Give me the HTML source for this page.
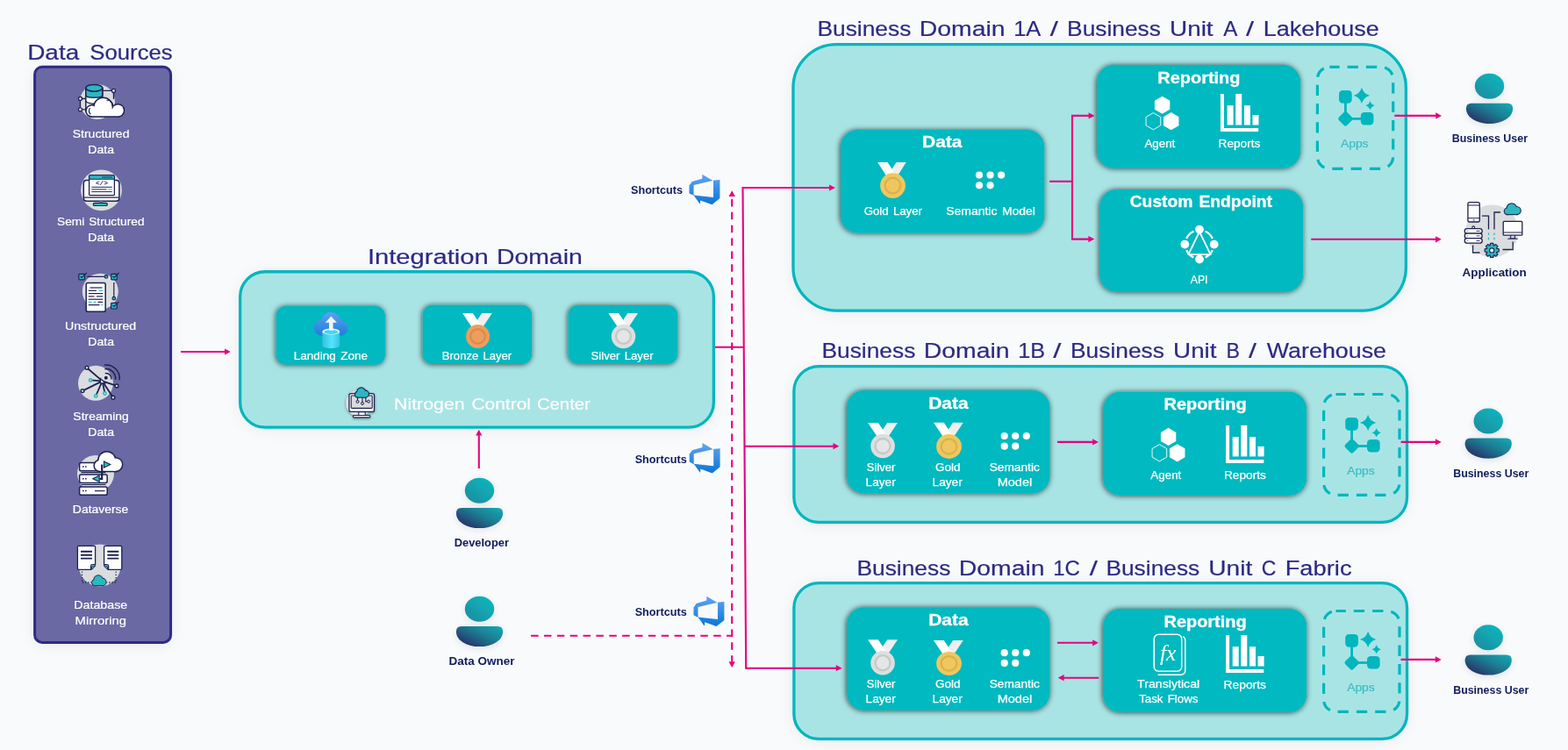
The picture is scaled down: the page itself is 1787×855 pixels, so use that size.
<!DOCTYPE html>
<html lang="en"><head><meta charset="utf-8"><title>Data Architecture</title>
<style>
html,body{margin:0;padding:0;background:#F9FAFC;}
body{width:1787px;height:855px;overflow:hidden;}
svg{display:block;}
text{font-family:"Liberation Sans",sans-serif;}
text.mono{font-family:"Liberation Mono",monospace;}
text.fx{font-family:"Liberation Serif",serif;font-style:italic;}
</style></head><body>
<svg width="1787" height="855" viewBox="0 0 1787 855">
<defs>
<filter id="bs" x="-10%" y="-20%" width="120%" height="140%"><feDropShadow dx="0" dy="2" stdDeviation="10" flood-color="#000" flood-opacity="0.065"/></filter>
<filter id="cs" x="-10%" y="-20%" width="120%" height="140%"><feDropShadow dx="-0.6" dy="0.4" stdDeviation="3.3" flood-color="#000" flood-opacity="0.72"/></filter>
<filter id="us" x="-30%" y="-30%" width="160%" height="160%"><feDropShadow dx="0" dy="2" stdDeviation="5" flood-color="#000" flood-opacity="0.10"/></filter>
<filter id="ncs" x="-30%" y="-30%" width="160%" height="160%"><feDropShadow dx="0" dy="1" stdDeviation="1.6" flood-color="#000" flood-opacity="0.45"/></filter>
<linearGradient id="ug1" x1="0.85" y1="0.1" x2="0.1" y2="1"><stop offset="0" stop-color="#0DB5BD"/><stop offset="1" stop-color="#1E8B9E"/></linearGradient>
<linearGradient id="ug2" x1="0.95" y1="0" x2="0.1" y2="0.75"><stop offset="0" stop-color="#13AAB4"/><stop offset="0.5" stop-color="#1D7C92"/><stop offset="1" stop-color="#26376B"/></linearGradient>
<linearGradient id="sg" x1="0" y1="0" x2="0" y2="1"><stop offset="0" stop-color="#62A4F0"/><stop offset="1" stop-color="#0A76D4"/></linearGradient>
<linearGradient id="lg" x1="0" y1="356" x2="0" y2="383" gradientUnits="userSpaceOnUse"><stop offset="0" stop-color="#5EA0EF"/><stop offset="1" stop-color="#1A7FDB"/></linearGradient>
<linearGradient id="cg" x1="0" y1="0" x2="1" y2="0"><stop offset="0" stop-color="#34C0E0"/><stop offset="0.55" stop-color="#54E4FE"/><stop offset="1" stop-color="#36C4E6"/></linearGradient>
</defs>
<rect width="1787" height="855" fill="#F9FAFC"/>
<g style="opacity:0.999">

<text y="67.9" font-size="24.3" font-weight="400" fill="#2C2A82" stroke="#2C2A82" stroke-width="0.2"><tspan x="31.2" textLength="59.04" lengthAdjust="spacingAndGlyphs">Data</tspan> <tspan x="102.24" textLength="94.52" lengthAdjust="spacingAndGlyphs">Sources</tspan></text>
<rect x="39.6" y="76.2" width="155" height="656.2" rx="8.5" fill="#6B69A4" stroke="#2E2B86" stroke-width="3" filter="url(#bs)"/>
<circle cx="111" cy="116" r="20" fill="#DADCDE"/>
<path d="M117,103.4 H127.5 M129.5,105.4 V113 M91.5,114.5 V122.8 M93.5,112.5 H98 M93.5,124.8 H99" fill="none" stroke="#1E2250" stroke-width="1.3"/>
<circle cx="129.5" cy="103.4" r="2" fill="#fff" stroke="#1E2250" stroke-width="1.3"/>
<circle cx="91.5" cy="112.5" r="2" fill="#fff" stroke="#1E2250" stroke-width="1.3"/>
<circle cx="91.5" cy="124.8" r="2" fill="#fff" stroke="#1E2250" stroke-width="1.3"/>
<path d="M97.8,100.5 V127 H116.8 V100.5Z" fill="#fff" stroke="#1E2250" stroke-width="1.5"/>
<path d="M97.8,100.5 V108.5 C97.8,112.3 116.8,112.3 116.8,108.5 V100.5Z" fill="#2BB8C0" stroke="#1E2250" stroke-width="1.5"/>
<ellipse cx="107.3" cy="100.3" rx="9.5" ry="3.9" fill="#2BB8C0" stroke="#1E2250" stroke-width="1.5"/>
<path d="M97.8,115 C99,118.5 110,118.8 113,117.5" fill="none" stroke="#1E2250" stroke-width="1.3"/>
<circle cx="104.6" cy="126.4" r="5.9" fill="#1E2250" stroke="#1E2250" stroke-width="3"/>
<circle cx="117.6" cy="122.2" r="10.1" fill="#1E2250" stroke="#1E2250" stroke-width="3"/>
<circle cx="134.4" cy="125.9" r="6.4" fill="#1E2250" stroke="#1E2250" stroke-width="3"/>
<rect x="104.6" y="124" width="29.8" height="8.3" fill="#1E2250" stroke="#1E2250" stroke-width="3"/>
<circle cx="104.6" cy="126.4" r="5.9" fill="#fff"/>
<circle cx="117.6" cy="122.2" r="10.1" fill="#fff"/>
<circle cx="134.4" cy="125.9" r="6.4" fill="#fff"/>
<rect x="104.6" y="124" width="29.8" height="8.3" fill="#fff"/>
<path d="M102.6,123 C101,125.4 101.3,128.4 103.3,130.4 M121.5,114.3 C125,113.8 128.5,116.3 129,120.3" fill="none" stroke="#1E2250" stroke-width="1.2"/>
<circle cx="115.5" cy="216.8" r="23.4" fill="#DADCDE"/>
<rect x="95.3" y="205.6" width="40.6" height="23.6" rx="3.2" fill="#fff" stroke="#1E2250" stroke-width="1.5"/>
<path d="M95.5,225.2 H135.8" fill="none" stroke="#1E2250" stroke-width="1.2"/>
<rect x="101.6" y="199.8" width="28.8" height="22.8" rx="1.2" fill="#fff" stroke="#1E2250" stroke-width="1.3"/>
<path d="M101.6,204.3 V201 Q101.6,199.8 102.8,199.8 H129.2 Q130.4,199.8 130.4,201 V204.3Z" fill="#2BB8C0" stroke="#1E2250" stroke-width="1.1"/>
<path d="M116,202 H128" fill="none" stroke="#1E2250" stroke-width="0.9"/>
<text x="115.9" y="211.3" font-size="7" font-weight="700" fill="#1E2250" text-anchor="middle" class="mono" textLength="14" lengthAdjust="spacingAndGlyphs">&lt;/&gt;</text>
<path d="M104.3,213.3 H127.8 M104.3,215.9 H121.5 M104.3,218.6 H127.8" fill="none" stroke="#1E2250" stroke-width="1"/>
<path d="M123.3,215.9 H127.8" fill="none" stroke="#2BB8C0" stroke-width="1.1"/>
<rect x="113.4" y="229.4" width="3.6" height="2" fill="#2BB8C0"/>
<rect x="106.3" y="231.3" width="16" height="3.2" rx="1.6" fill="#2BB8C0" stroke="#1E2250" stroke-width="1.2"/>
<circle cx="114.3" cy="332.2" r="20.5" fill="#DADCDE"/>
<path d="M99.5,315.4 H119 M129.8,322 V338" fill="none" stroke="#1E2250" stroke-width="1.2"/>
<circle cx="121" cy="315.4" r="1.8" fill="#2BB8C0" stroke="#1E2250" stroke-width="1.1"/>
<circle cx="129.8" cy="340.2" r="1.8" fill="#2BB8C0" stroke="#1E2250" stroke-width="1.1"/>
<rect x="89.9" y="312.3" width="6.6" height="6.6" rx="0.8" fill="#2BB8C0" stroke="#1E2250" stroke-width="1.2"/>
<path d="M91.6,314.8 L93.2,316.4 L98.8,310.8" fill="none" stroke="#1E2250" stroke-width="1.1"/>
<rect x="126.7" y="312.3" width="6.6" height="6.6" rx="0.8" fill="#2BB8C0" stroke="#1E2250" stroke-width="1.2"/>
<path d="M128.4,314.8 L130,316.4 L135.6,310.8" fill="none" stroke="#1E2250" stroke-width="1.1"/>
<rect x="126.7" y="345.4" width="6.6" height="6.6" rx="0.8" fill="#2BB8C0" stroke="#1E2250" stroke-width="1.2"/>
<path d="M128.4,347.9 L130,349.5 L135.6,343.9" fill="none" stroke="#1E2250" stroke-width="1.1"/>
<rect x="98.2" y="322.4" width="22" height="32.8" rx="1.8" fill="#fff" stroke="#1E2250" stroke-width="1.5"/>
<path d="M102.5,328 H116.5" stroke="#1E2250" stroke-width="1.2" fill="none"/>
<path d="M100.8,331.3 H110" stroke="#1E2250" stroke-width="1.2" fill="none"/>
<path d="M112.5,331.3 H117.2" stroke="#2BB8C0" stroke-width="1.2" fill="none"/>
<path d="M100.8,334.6 H117.2" stroke="#1E2250" stroke-width="1.2" fill="none"/>
<path d="M100.8,337.9 H107.5" stroke="#1E2250" stroke-width="1.2" fill="none"/>
<path d="M110,337.9 H117.2" stroke="#1E2250" stroke-width="1.2" fill="none"/>
<path d="M100.8,341.2 H117.2" stroke="#1E2250" stroke-width="1.2" fill="none"/>
<path d="M100.8,344.4 H104.5" stroke="#2BB8C0" stroke-width="1.2" fill="none"/>
<path d="M106.5,344.4 H109.5" stroke="#2BB8C0" stroke-width="1.2" fill="none"/>
<path d="M111.5,344.4 H117.2" stroke="#1E2250" stroke-width="1.2" fill="none"/>
<path d="M100.8,347.6 H113.5" stroke="#1E2250" stroke-width="1.2" fill="none"/>
<path d="M115.3,347.6 H117.2" stroke="#2BB8C0" stroke-width="1.2" fill="none"/>
<circle cx="109" cy="436.8" r="20" fill="#DADCDE"/>
<path d="M116.6,434.4 L99,419.3" fill="none" stroke="#1E2250" stroke-width="1.8"/>
<path d="M116.6,434.4 L94,445.6" fill="none" stroke="#1E2250" stroke-width="1.8"/>
<path d="M116.6,434.4 L128.9,453.2" fill="none" stroke="#1E2250" stroke-width="1.8"/>
<path d="M116.6,434.4 L133,439.9" fill="none" stroke="#1E2250" stroke-width="1.8"/>
<path d="M116.6,434.4 L103.2,433.4" fill="none" stroke="#1E2250" stroke-width="1.8"/>
<path d="M116.6,434.4 L109.2,451.4" fill="none" stroke="#1E2250" stroke-width="1.8"/>
<path d="M116.6,434.4 L119.5,448.5" fill="none" stroke="#1E2250" stroke-width="1.8"/>
<circle cx="99" cy="419.3" r="1.9" fill="#DADCDE" stroke="#1E2250" stroke-width="1.4"/>
<circle cx="94" cy="445.6" r="1.9" fill="#DADCDE" stroke="#1E2250" stroke-width="1.4"/>
<circle cx="128.9" cy="453.2" r="1.9" fill="#DADCDE" stroke="#1E2250" stroke-width="1.4"/>
<circle cx="133" cy="439.9" r="1.9" fill="#DADCDE" stroke="#1E2250" stroke-width="1.4"/>
<circle cx="103.2" cy="433.4" r="2.4" fill="#2BB8C0"/><circle cx="103.2" cy="433.4" r="0.7" fill="#fff"/>
<circle cx="109.2" cy="451.4" r="2.4" fill="#2BB8C0"/><circle cx="109.2" cy="451.4" r="0.7" fill="#fff"/>
<circle cx="119.5" cy="448.5" r="2.4" fill="#2BB8C0"/><circle cx="119.5" cy="448.5" r="0.7" fill="#fff"/>
<path d="M114.5,431.5 L119.8,436.8 L114.5,436.8Z" fill="#fff" stroke="#1E2250" stroke-width="1.2"/>
<circle cx="120.8" cy="430.8" r="2" fill="#1E2250"/>
<path d="M120.38,425.42 A6,6 0 0 1 126.88,431.92" fill="none" stroke="#1E2250" stroke-width="1.5" stroke-linecap="round"/>
<path d="M119.96,420.64 A10.8,10.8 0 0 1 131.66,432.34" fill="none" stroke="#1E2250" stroke-width="1.5" stroke-linecap="round"/>
<path d="M119.56,416.06 A15.4,15.4 0 0 1 136.24,432.74" fill="none" stroke="#1E2250" stroke-width="1.5" stroke-linecap="round"/>
<circle cx="109" cy="540" r="21" fill="#DADCDE"/>
<rect x="90.6" y="527.4" width="31.6" height="9.4" rx="1.8" fill="#fff" stroke="#1E2250" stroke-width="1.5"/>
<path d="M94,532.1 h1.6 M97,532.1 h1.6" fill="none" stroke="#1E2250" stroke-width="1.5"/>
<rect x="90.6" y="541" width="31.6" height="9.4" rx="1.8" fill="#fff" stroke="#1E2250" stroke-width="1.5"/>
<path d="M94,545.7 h1.6 M97,545.7 h1.6" fill="none" stroke="#1E2250" stroke-width="1.5"/>
<rect x="90.6" y="554.9" width="31.6" height="9.4" rx="1.8" fill="#fff" stroke="#1E2250" stroke-width="1.5"/>
<path d="M94,559.6 h1.6 M97,559.6 h1.6" fill="none" stroke="#1E2250" stroke-width="1.5"/>
<path d="M92.5,538.6 H120.5 M92.5,552.5 H120.5" fill="none" stroke="#1E2250" stroke-width="1.1"/>
<path d="M108,559.6 H119.5" fill="none" stroke="#1E2250" stroke-width="1.2"/>
<circle cx="113.8" cy="530.86" r="5.94" fill="#1E2250" stroke="#1E2250" stroke-width="3"/>
<circle cx="121.77" cy="524.93" r="9.33" fill="#1E2250" stroke="#1E2250" stroke-width="3"/>
<circle cx="131.73" cy="529.59" r="7.21" fill="#1E2250" stroke="#1E2250" stroke-width="3"/>
<rect x="113.8" y="528.32" width="17.93" height="8.48" fill="#1E2250" stroke="#1E2250" stroke-width="3"/>
<circle cx="113.8" cy="530.86" r="5.94" fill="#fff"/>
<circle cx="121.77" cy="524.93" r="9.33" fill="#fff"/>
<circle cx="131.73" cy="529.59" r="7.21" fill="#fff"/>
<rect x="113.8" y="528.32" width="17.93" height="8.48" fill="#fff"/>
<path d="M116.2,529.5 V545.8 H113.5" fill="none" stroke="#1E2250" stroke-width="2.2"/>
<path d="M118.5,526 L125.8,529.6 L118.5,533.2Z" fill="#2BB8C0" stroke="#1E2250" stroke-width="1.1"/>
<path d="M113.2,542 L105.8,545.7 L113.2,549.4Z" fill="#2BB8C0" stroke="#1E2250" stroke-width="1.1"/>
<circle cx="113.7" cy="644.5" r="24" fill="#DADCDE"/>
<path d="M93.5,651.5 V664 H104 M132.2,651.5 V664 H121.5" fill="none" stroke="#1E2250" stroke-width="1.3" stroke-dasharray="1.3 1.9"/>
<path d="M89.6,622.3 H107.4 Q108.6,622.3 108.6,623.5 V643.7 H105.2 Q103.6,643.7 103.6,645.3 V649.3 H89.6 Q88.4,649.3 88.4,648.1 V623.5 Q88.4,622.3 89.6,622.3Z" fill="#fff" stroke="#1E2250" stroke-width="1.3"/>
<path d="M104.6,649.3 L104.6,646 L108.6,644.6 L108.6,645.5Z" fill="#2BB8C0" stroke="#1E2250" stroke-width="0.9"/>
<path d="M137.6,622.3 H119.8 Q118.6,622.3 118.6,623.5 V643.7 H122 Q123.6,643.7 123.6,645.3 V649.3 H137.6 Q138.8,649.3 138.8,648.1 V623.5 Q138.8,622.3 137.6,622.3Z" fill="#fff" stroke="#1E2250" stroke-width="1.3"/>
<path d="M122.6,649.3 L122.6,646 L118.6,644.6 L118.6,645.5Z" fill="#2BB8C0" stroke="#1E2250" stroke-width="0.9"/>
<path d="M92,628.8 H105 M122.3,628.8 H135.3" fill="none" stroke="#1E2250" stroke-width="1.9"/>
<path d="M92,632.7 H105 M122.3,632.7 H135.3" fill="none" stroke="#1E2250" stroke-width="1.9"/>
<path d="M92,636.6 H105 M122.3,636.6 H135.3" fill="none" stroke="#1E2250" stroke-width="1.9"/>
<circle cx="108.16" cy="664.12" r="3.08" fill="#1E2250" stroke="#1E2250" stroke-width="1.8"/>
<circle cx="112.05" cy="661.04" r="4.84" fill="#1E2250" stroke="#1E2250" stroke-width="1.8"/>
<circle cx="116.91" cy="663.46" r="3.74" fill="#1E2250" stroke="#1E2250" stroke-width="1.8"/>
<rect x="108.16" y="662.8" width="8.75" height="4.4" fill="#1E2250" stroke="#1E2250" stroke-width="1.8"/>
<circle cx="108.16" cy="664.12" r="3.08" fill="#2BB8C0"/>
<circle cx="112.05" cy="661.04" r="4.84" fill="#2BB8C0"/>
<circle cx="116.91" cy="663.46" r="3.74" fill="#2BB8C0"/>
<rect x="108.16" y="662.8" width="8.75" height="4.4" fill="#2BB8C0"/>
<text x="82.65" y="157" font-size="13.6" font-weight="400" fill="#fff" textLength="64.88" lengthAdjust="spacingAndGlyphs" stroke="#fff" stroke-width="0.2">Structured</text>
<text x="100.26" y="175" font-size="13.6" font-weight="400" fill="#fff" textLength="29.78" lengthAdjust="spacingAndGlyphs" stroke="#fff" stroke-width="0.2">Data</text>
<text x="65" y="257" font-size="13.6" font-weight="400" fill="#fff" textLength="99.57" lengthAdjust="spacingAndGlyphs" stroke="#fff" stroke-width="0.2" word-spacing="1">Semi Structured</text>
<text x="100.26" y="275" font-size="13.6" font-weight="400" fill="#fff" textLength="29.78" lengthAdjust="spacingAndGlyphs" stroke="#fff" stroke-width="0.2">Data</text>
<text x="73.96" y="375.8" font-size="13.6" font-weight="400" fill="#fff" textLength="81.23" lengthAdjust="spacingAndGlyphs" stroke="#fff" stroke-width="0.2">Unstructured</text>
<text x="100.26" y="393.7" font-size="13.6" font-weight="400" fill="#fff" textLength="29.78" lengthAdjust="spacingAndGlyphs" stroke="#fff" stroke-width="0.2">Data</text>
<text x="83.35" y="479" font-size="13.6" font-weight="400" fill="#fff" textLength="63.47" lengthAdjust="spacingAndGlyphs" stroke="#fff" stroke-width="0.2">Streaming</text>
<text x="100.26" y="496.8" font-size="13.6" font-weight="400" fill="#fff" textLength="29.78" lengthAdjust="spacingAndGlyphs" stroke="#fff" stroke-width="0.2">Data</text>
<text x="82.83" y="585.1" font-size="13.6" font-weight="400" fill="#fff" textLength="63.5" lengthAdjust="spacingAndGlyphs" stroke="#fff" stroke-width="0.2">Dataverse</text>
<text x="84.3" y="694.2" font-size="13.6" font-weight="400" fill="#fff" textLength="60.93" lengthAdjust="spacingAndGlyphs" stroke="#fff" stroke-width="0.2">Database</text>
<text x="85.56" y="712.2" font-size="13.6" font-weight="400" fill="#fff" textLength="58.4" lengthAdjust="spacingAndGlyphs" stroke="#fff" stroke-width="0.2">Mirroring</text>
<path d="M206,401 L256.5,401" fill="none" stroke="#E6007E" stroke-width="2.1"/>
<path d="M262.8,401 L256,404.6 L256,397.4Z" fill="#E6007E"/>
<text y="300.9" font-size="24.3" font-weight="400" fill="#2C2A82" stroke="#2C2A82" stroke-width="0.2"><tspan x="418.9" textLength="137.92" lengthAdjust="spacingAndGlyphs">Integration</tspan> <tspan x="565.96" textLength="97.8" lengthAdjust="spacingAndGlyphs">Domain</tspan></text>
<rect x="273.65" y="309.75" width="539.7" height="177.4" rx="28.35" fill="#A9E4E5" stroke="#01B6BD" stroke-width="3.3" filter="url(#bs)"/>
<rect x="314.9" y="348.9" width="124" height="66.9" rx="11" fill="#01B9C0" filter="url(#cs)"/>
<rect x="481.8" y="347.8" width="124.3" height="67.2" rx="11" fill="#01B9C0" filter="url(#cs)"/>
<rect x="647.7" y="348" width="124.6" height="66.7" rx="11" fill="#01B9C0" filter="url(#cs)"/>
<g fill="url(#lg)">
<circle cx="377" cy="367.5" r="11.6"/><circle cx="366.8" cy="373.6" r="9.2"/><circle cx="387.4" cy="373.8" r="9"/><rect x="366" y="370" width="22" height="12.8"/>
</g>
<path d="M367.3,378 V393.5 C367.3,398.3 387.2,398.3 387.2,393.5 V378Z" fill="url(#cg)"/>
<ellipse cx="377.25" cy="378" rx="9.95" ry="3.6" fill="#E9F6FA"/>
<ellipse cx="377.25" cy="378.4" rx="8" ry="2.5" fill="#45D3F5"/>
<path d="M377.3,360.6 L383.9,367.8 H379.6 V376.6 Q377.3,377.2 375,376.6 V367.8 H370.7Z" fill="#F4F4F4"/>
<path d="M560.85,357.1 L549.14,357.1 L536.5,376.1 L548.2,376.1Z" fill="#EFEFEF"/>
<path d="M527.15,357.1 L538.86,357.1 L551.5,376.1 L539.8,376.1Z" fill="#fff"/>
<ellipse cx="544.5" cy="383.4" rx="13.5" ry="13.5" fill="#ED9D5D"/>
<ellipse cx="544.5" cy="383.4" rx="8.3" ry="8.3" fill="#ED9D5D" stroke="#D98B4F" stroke-width="2.3"/>
<path d="M727.05,357.1 L715.34,357.1 L702.7,376.1 L714.4,376.1Z" fill="#EFEFEF"/>
<path d="M693.35,357.1 L705.06,357.1 L717.7,376.1 L706,376.1Z" fill="#fff"/>
<ellipse cx="710.5" cy="383.5" rx="13.7" ry="13.7" fill="#DDDFDF"/>
<ellipse cx="710.5" cy="383.5" rx="8.43" ry="8.43" fill="#E4E6E6" stroke="#C6C8C8" stroke-width="2.3"/>
<text x="334.74" y="410" font-size="12.7" font-weight="400" fill="#fff" textLength="84.22" lengthAdjust="spacingAndGlyphs" stroke="#fff" stroke-width="0.22" word-spacing="1.5">Landing Zone</text>
<text x="503.77" y="410" font-size="12.7" font-weight="400" fill="#fff" textLength="79.43" lengthAdjust="spacingAndGlyphs" stroke="#fff" stroke-width="0.22" word-spacing="1.5">Bronze Layer</text>
<text x="673.5" y="409.5" font-size="12.7" font-weight="400" fill="#fff" textLength="71.1" lengthAdjust="spacingAndGlyphs" stroke="#fff" stroke-width="0.22" word-spacing="1.5">Silver Layer</text>
<g filter="url(#ncs)">
<circle cx="409" cy="459.5" r="15" fill="#DADCDE"/>
<path d="M408.8,469.6 h7.4 v4 h-7.4Z" fill="#fff" stroke="#1E2250" stroke-width="1.1"/>
<rect x="402.5" y="473.5" width="19.3" height="2.4" rx="0.8" fill="#fff" stroke="#1E2250" stroke-width="1.1"/>
<rect x="397.9" y="448.6" width="28.6" height="20.8" rx="2.2" fill="#fff" stroke="#1E2250" stroke-width="1.3"/>
<rect x="400.2" y="451" width="24" height="14.4" rx="0.8" fill="#DADCDE" stroke="#1E2250" stroke-width="1.1"/>
<path d="M407.5,453 V456.5 M413,453 V458.5 M416.8,453 V457.6 H418.5" fill="none" stroke="#1E2250" stroke-width="1.1"/>
<circle cx="407.5" cy="457.9" r="1.5" fill="#DADCDE" stroke="#1E2250" stroke-width="1"/>
<circle cx="413" cy="459.9" r="1.5" fill="#DADCDE" stroke="#1E2250" stroke-width="1"/>
<circle cx="420" cy="457.6" r="1.5" fill="#DADCDE" stroke="#1E2250" stroke-width="1"/>
<circle cx="407.88" cy="449.74" r="2.86" fill="#1E2250" stroke="#1E2250" stroke-width="2.2"/>
<circle cx="411.67" cy="446.89" r="4.49" fill="#1E2250" stroke="#1E2250" stroke-width="2.2"/>
<circle cx="416.41" cy="449.13" r="3.47" fill="#1E2250" stroke="#1E2250" stroke-width="2.2"/>
<rect x="407.88" y="448.52" width="8.53" height="4.08" fill="#1E2250" stroke="#1E2250" stroke-width="2.2"/>
<circle cx="407.88" cy="449.74" r="2.86" fill="#2BB8C0"/>
<circle cx="411.67" cy="446.89" r="4.49" fill="#2BB8C0"/>
<circle cx="416.41" cy="449.13" r="3.47" fill="#2BB8C0"/>
<rect x="407.88" y="448.52" width="8.53" height="4.08" fill="#2BB8C0"/>
</g>
<text y="467" font-size="18.8" font-weight="400" fill="#fff" stroke="#fff" stroke-width="0.15"><tspan x="449.07" textLength="80.54" lengthAdjust="spacingAndGlyphs">Nitrogen</tspan> <tspan x="537.4" textLength="67.61" lengthAdjust="spacingAndGlyphs">Control</tspan> <tspan x="611.9" textLength="60.98" lengthAdjust="spacingAndGlyphs">Center</tspan></text>
<path d="M545.8,534 L545.8,496.1" fill="none" stroke="#E6007E" stroke-width="2.1"/>
<path d="M545.8,489.8 L549.4,496.6 L542.2,496.6Z" fill="#E6007E"/>
<g filter="url(#us)">
<ellipse cx="546.5" cy="559.3" rx="16.7" ry="14.5" fill="url(#ug1)"/>
<path d="M519.9,584.9 Q519.9,578.9 525.9,578.9 L567.1,578.9 Q573.1,578.9 573.1,584.9 C573.1,595.4 560.5,602.1 546.5,602.1 C532.5,602.1 519.9,595.4 519.9,584.9Z" fill="url(#ug2)"/>
</g>
<text x="517.7" y="622.9" font-size="12.6" font-weight="700" fill="#0F1C5C" textLength="62.3" lengthAdjust="spacingAndGlyphs">Developer</text>
<g filter="url(#us)">
<ellipse cx="546.5" cy="694.3" rx="16.7" ry="14.5" fill="url(#ug1)"/>
<path d="M519.9,719.9 Q519.9,713.9 525.9,713.9 L567.1,713.9 Q573.1,713.9 573.1,719.9 C573.1,730.4 560.5,737.1 546.5,737.1 C532.5,737.1 519.9,730.4 519.9,719.9Z" fill="url(#ug2)"/>
</g>
<text x="511.5" y="758" font-size="12.6" font-weight="700" fill="#0F1C5C" textLength="74.99" lengthAdjust="spacingAndGlyphs">Data Owner</text>
<text x="719" y="220.9" font-size="13" font-weight="700" fill="#0F1C5C" textLength="58.92" lengthAdjust="spacingAndGlyphs">Shortcuts</text>
<g transform="translate(0,0)">
<path fill="url(#sg)" fill-rule="evenodd" d="M800.3,198.8 L812.1,205.8 L820.4,205.1 L820.4,226.1 L811.5,233.2 L798.2,228.4 L797.8,232.8 L790.8,223 L785.5,220.4 L785.5,211.6 L788.7,207 L800.3,203.7Z M790.5,211.1 L813,205.8 L813,225 L790.5,222.5Z"/>
</g>
<text x="723.7" y="527.7" font-size="13" font-weight="700" fill="#0F1C5C" textLength="59.02" lengthAdjust="spacingAndGlyphs">Shortcuts</text>
<g transform="translate(0.2,306.2)">
<path fill="url(#sg)" fill-rule="evenodd" d="M800.3,198.8 L812.1,205.8 L820.4,205.1 L820.4,226.1 L811.5,233.2 L798.2,228.4 L797.8,232.8 L790.8,223 L785.5,220.4 L785.5,211.6 L788.7,207 L800.3,203.7Z M790.5,211.1 L813,205.8 L813,225 L790.5,222.5Z"/>
</g>
<text x="723.7" y="701.7" font-size="13" font-weight="700" fill="#0F1C5C" textLength="59.02" lengthAdjust="spacingAndGlyphs">Shortcuts</text>
<g transform="translate(5,480.9)">
<path fill="url(#sg)" fill-rule="evenodd" d="M800.3,198.8 L812.1,205.8 L820.4,205.1 L820.4,226.1 L811.5,233.2 L798.2,228.4 L797.8,232.8 L790.8,223 L785.5,220.4 L785.5,211.6 L788.7,207 L800.3,203.7Z M790.5,211.1 L813,205.8 L813,225 L790.5,222.5Z"/>
</g>
<text y="40.9" font-size="24.3" font-weight="400" fill="#2C2A82" stroke="#2C2A82" stroke-width="0.2"><tspan x="931.43" textLength="106.93" lengthAdjust="spacingAndGlyphs">Business</tspan> <tspan x="1047.87" textLength="97.7" lengthAdjust="spacingAndGlyphs">Domain</tspan> <tspan x="1155.2" textLength="29.71" lengthAdjust="spacingAndGlyphs">1A</tspan> <tspan x="1196.7" textLength="9.16" lengthAdjust="spacingAndGlyphs">/</tspan> <tspan x="1216.13" textLength="106.83" lengthAdjust="spacingAndGlyphs">Business</tspan> <tspan x="1333.05" textLength="49.56" lengthAdjust="spacingAndGlyphs">Unit</tspan> <tspan x="1394.3" textLength="14.78" lengthAdjust="spacingAndGlyphs">A</tspan> <tspan x="1420.1" textLength="9.06" lengthAdjust="spacingAndGlyphs">/</tspan> <tspan x="1439.68" textLength="132.19" lengthAdjust="spacingAndGlyphs">Lakehouse</tspan></text>
<rect x="903.95" y="50.65" width="698.4" height="303.5" rx="49.35" fill="#A9E4E5" stroke="#01B6BD" stroke-width="3.3" filter="url(#bs)"/>
<text y="408.1" font-size="24.3" font-weight="400" fill="#2C2A82" stroke="#2C2A82" stroke-width="0.2"><tspan x="936.43" textLength="106.93" lengthAdjust="spacingAndGlyphs">Business</tspan> <tspan x="1052.87" textLength="97.7" lengthAdjust="spacingAndGlyphs">Domain</tspan> <tspan x="1160.16" textLength="30.78" lengthAdjust="spacingAndGlyphs">1B</tspan> <tspan x="1200.2" textLength="9.16" lengthAdjust="spacingAndGlyphs">/</tspan> <tspan x="1220.03" textLength="106.93" lengthAdjust="spacingAndGlyphs">Business</tspan> <tspan x="1337.06" textLength="49.46" lengthAdjust="spacingAndGlyphs">Unit</tspan> <tspan x="1397.39" textLength="15.46" lengthAdjust="spacingAndGlyphs">B</tspan> <tspan x="1423.1" textLength="8.97" lengthAdjust="spacingAndGlyphs">/</tspan> <tspan x="1443.8" textLength="136.17" lengthAdjust="spacingAndGlyphs">Warehouse</tspan></text>
<rect x="904.85" y="417.65" width="698.7" height="177.7" rx="28.35" fill="#A9E4E5" stroke="#01B6BD" stroke-width="3.3" filter="url(#bs)"/>
<text y="655.9" font-size="24.3" font-weight="400" fill="#2C2A82" stroke="#2C2A82" stroke-width="0.2"><tspan x="976.43" textLength="106.93" lengthAdjust="spacingAndGlyphs">Business</tspan> <tspan x="1092.87" textLength="97.7" lengthAdjust="spacingAndGlyphs">Domain</tspan> <tspan x="1200.21" textLength="30.62" lengthAdjust="spacingAndGlyphs">1C</tspan> <tspan x="1241.7" textLength="9.16" lengthAdjust="spacingAndGlyphs">/</tspan> <tspan x="1260.43" textLength="106.83" lengthAdjust="spacingAndGlyphs">Business</tspan> <tspan x="1377.24" textLength="50.07" lengthAdjust="spacingAndGlyphs">Unit</tspan> <tspan x="1437.86" textLength="16.56" lengthAdjust="spacingAndGlyphs">C</tspan> <tspan x="1464.65" textLength="75.92" lengthAdjust="spacingAndGlyphs">Fabric</tspan></text>
<rect x="904.85" y="664.65" width="698.7" height="177.7" rx="28.35" fill="#A9E4E5" stroke="#01B6BD" stroke-width="3.3" filter="url(#bs)"/>
<path d="M834.2,224 V754.5" fill="none" stroke="#E6007E" stroke-width="2.1" stroke-dasharray="8.5 6.363" stroke-dashoffset="-3"/>
<path d="M834.2,217.3 L837.9,224 L830.5,224Z M834.2,761 L837.9,754.2 L830.5,754.2Z" fill="#E6007E"/>
<path d="M605.1,724.7 H834.2" fill="none" stroke="#E6007E" stroke-width="2.1" stroke-dasharray="8.5 6.363"/>
<path d="M815,395.7 L847.6,395.7" fill="none" stroke="#E6007E" stroke-width="2.1"/>
<path d="M846.5,214 L850.2,761.7" fill="none" stroke="#E6007E" stroke-width="2.1" stroke-linecap="square"/>
<path d="M846.5,214 L945.6,214" fill="none" stroke="#E6007E" stroke-width="2.1"/>
<path d="M951.9,214 L945.1,217.6 L945.1,210.4Z" fill="#E6007E"/>
<path d="M848.5,508.7 L950,508.7" fill="none" stroke="#E6007E" stroke-width="2.1"/>
<path d="M956.3,508.7 L949.5,512.3 L949.5,505.1Z" fill="#E6007E"/>
<path d="M850.2,761.7 L953.3,761.7" fill="none" stroke="#E6007E" stroke-width="2.1"/>
<path d="M959.6,761.7 L952.8,765.3 L952.8,758.1Z" fill="#E6007E"/>
<rect x="958" y="148" width="232.3" height="117.6" rx="19.6" fill="#01B9C0" filter="url(#cs)"/>
<text x="1051.12" y="167.7" font-size="17.8" font-weight="700" fill="#fff" textLength="45.35" lengthAdjust="spacingAndGlyphs" stroke="#fff" stroke-width="0.3">Data</text>
<path d="M1032.75,185 L1021.46,185 L1009,204 L1020.7,204Z" fill="#EFEFEF"/>
<path d="M1000.25,185 L1011.54,185 L1024,204 L1012.3,204Z" fill="#fff"/>
<ellipse cx="1017.5" cy="211.6" rx="14.4" ry="14.4" fill="#EFC75E"/>
<ellipse cx="1017.5" cy="211.6" rx="8.86" ry="8.86" fill="#EFC75E" stroke="#DAB24E" stroke-width="2.3"/>
<circle cx="1116" cy="199.6" r="4.1" fill="#fff"/>
<circle cx="1128.55" cy="199.6" r="4.1" fill="#fff"/>
<circle cx="1141.1" cy="199.6" r="4.1" fill="#fff"/>
<circle cx="1116" cy="211.3" r="4.1" fill="#fff"/>
<circle cx="1128.55" cy="211.3" r="4.1" fill="#fff"/>
<text x="984.7" y="244.9" font-size="12.7" font-weight="400" fill="#fff" textLength="66.29" lengthAdjust="spacingAndGlyphs" stroke="#fff" stroke-width="0.25" word-spacing="1.5">Gold Layer</text>
<text x="1078.2" y="244.9" font-size="12.7" font-weight="400" fill="#fff" textLength="101.7" lengthAdjust="spacingAndGlyphs" stroke="#fff" stroke-width="0.25" word-spacing="1.5">Semantic Model</text>
<path d="M1196.1,206.8 L1222,206.8" fill="none" stroke="#E6007E" stroke-width="2.1"/>
<path d="M1222,206.8 L1222,131.9 L1241.1,131.9" fill="none" stroke="#E6007E" stroke-width="2.1"/>
<path d="M1247.4,131.9 L1240.6,135.5 L1240.6,128.3Z" fill="#E6007E"/>
<path d="M1222,206.8 L1222,272.6 L1240.9,272.6" fill="none" stroke="#E6007E" stroke-width="2.1"/>
<path d="M1247.2,272.6 L1240.4,276.2 L1240.4,269Z" fill="#E6007E"/>
<rect x="1250" y="74" width="232.1" height="117.8" rx="19.6" fill="#01B9C0" filter="url(#cs)"/>
<text x="1319.39" y="95.3" font-size="18" font-weight="700" fill="#fff" textLength="94.01" lengthAdjust="spacingAndGlyphs" stroke="#fff" stroke-width="0.3">Reporting</text>
<path d="M1324.6,109.75 L1333.3,114.77 L1333.3,124.82 L1324.6,129.85 L1315.9,124.83 L1315.9,114.77Z" fill="#fff"/>
<path d="M1334.7,128.1 L1343.45,133.15 L1343.45,143.25 L1334.7,148.3 L1325.95,143.25 L1325.95,133.15Z" fill="#fff"/>
<path d="M1314.4,128.6 L1322.71,133.4 L1322.71,143 L1314.4,147.8 L1306.09,143 L1306.09,133.4Z" fill="none" stroke="#fff" stroke-width="0.9"/>
<path d="M1390.9,107 h4.1 v39 h39.2 v4 h-43.3Z" fill="#fff"/>
<rect x="1398.6" y="120.2" width="7" height="22.3" fill="#fff"/>
<rect x="1408.2" y="107" width="7" height="35.5" fill="#fff"/>
<rect x="1417.9" y="120.2" width="7" height="22.3" fill="#fff"/>
<rect x="1427.5" y="131" width="7" height="11.5" fill="#fff"/>
<text x="1304.4" y="167.9" font-size="12.7" font-weight="400" fill="#fff" textLength="34.9" lengthAdjust="spacingAndGlyphs" stroke="#fff" stroke-width="0.25">Agent</text>
<text x="1388.52" y="167.9" font-size="12.7" font-weight="400" fill="#fff" textLength="47.85" lengthAdjust="spacingAndGlyphs" stroke="#fff" stroke-width="0.25">Reports</text>
<rect x="1253.2" y="216.1" width="231.9" height="116.7" rx="19.6" fill="#01B9C0" filter="url(#cs)"/>
<text x="1287.7" y="236" font-size="18" font-weight="700" fill="#fff" textLength="162.29" lengthAdjust="spacingAndGlyphs" stroke="#fff" stroke-width="0.3" word-spacing="1.5">Custom Endpoint</text>
<path d="M1373.59,263.8 A16.2,16.2 0 0 1 1381.8,272.01" fill="none" stroke="#fff" stroke-width="2.2"/>
<path d="M1381.8,285.19 A16.2,16.2 0 0 1 1373.59,293.4" fill="none" stroke="#fff" stroke-width="2.2"/>
<path d="M1360.41,293.4 A16.2,16.2 0 0 1 1352.2,285.19" fill="none" stroke="#fff" stroke-width="2.2"/>
<path d="M1352.2,272.01 A16.2,16.2 0 0 1 1360.41,263.8" fill="none" stroke="#fff" stroke-width="2.2"/>
<path d="M1367,264.1 L1379.6,290.1 L1354.4,290.1Z" fill="none" stroke="#fff" stroke-width="1.9" stroke-linejoin="round"/>
<circle cx="1367" cy="261.6" r="4.9" fill="#fff"/>
<circle cx="1350.3" cy="278.6" r="4.9" fill="#fff"/>
<circle cx="1383.7" cy="278.6" r="4.9" fill="#fff"/>
<circle cx="1367" cy="295.6" r="4.9" fill="#fff"/>
<text x="1356.7" y="322.8" font-size="12.7" font-weight="400" fill="#fff" textLength="19.81" lengthAdjust="spacingAndGlyphs" stroke="#fff" stroke-width="0.25">API</text>
<rect x="1501.4" y="76.4" width="86.3" height="116" rx="13.9" fill="none" stroke="#01B6BD" stroke-width="3.2" stroke-dasharray="12.3 9" stroke-dashoffset="1"/>
<g transform="translate(0,0)" fill="#01B6BD">
<rect x="1526" y="103" width="14.7" height="14.7" rx="4.2"/>
<rect x="1550.8" y="128" width="14.6" height="14.4" rx="4.2"/>
<rect x="1526.9" y="128.9" width="13" height="13" rx="2.6" transform="rotate(45 1533.4 135.4)"/>
<rect x="1532" y="115" width="2.8" height="14"/>
<rect x="1539" y="134" width="14" height="2.8"/>
<path d="M1551.9,99.7 Q1553.92,106.88 1561.1,108.9 Q1553.92,110.92 1551.9,118.1 Q1549.88,110.92 1542.7,108.9 Q1549.88,106.88 1551.9,99.7Z"/>
<path d="M1561.5,114.9 Q1562.67,119.03 1566.8,120.2 Q1562.67,121.37 1561.5,125.5 Q1560.33,121.37 1556.2,120.2 Q1560.33,119.03 1561.5,114.9Z"/>
</g>
<text x="1528" y="167.8" font-size="12.8" font-weight="400" fill="#3ABCC4" textLength="31.53" lengthAdjust="spacingAndGlyphs" stroke="#3ABCC4" stroke-width="0.2">Apps</text>
<path d="M1589.3,131.9 L1636.7,131.9" fill="none" stroke="#E6007E" stroke-width="2.1"/>
<path d="M1643,131.9 L1636.2,135.5 L1636.2,128.3Z" fill="#E6007E"/>
<path d="M1494.2,272.8 L1636.5,272.8" fill="none" stroke="#E6007E" stroke-width="2.1"/>
<path d="M1642.8,272.8 L1636,276.4 L1636,269.2Z" fill="#E6007E"/>
<g filter="url(#us)">
<ellipse cx="1697.5" cy="98.2" rx="16.7" ry="14.5" fill="url(#ug1)"/>
<path d="M1670.9,123.8 Q1670.9,117.8 1676.9,117.8 L1718.1,117.8 Q1724.1,117.8 1724.1,123.8 C1724.1,134.3 1711.5,141 1697.5,141 C1683.5,141 1670.9,134.3 1670.9,123.8Z" fill="url(#ug2)"/>
</g>
<text x="1654.7" y="161.7" font-size="12.6" font-weight="700" fill="#0F1C5C" textLength="86.3" lengthAdjust="spacingAndGlyphs">Business User</text>
<circle cx="1700.5" cy="263.5" r="30" fill="#DADCDE"/>
<path d="M1689,246.2 H1696.5 V261.5 M1710,242 H1703 V261.5 M1678.6,279.5 V288 H1686.5 M1712.5,284.5 H1724.2 V275.5" fill="none" stroke="#1E2250" stroke-width="1.3"/>
<path d="M1696.5,265.5 V275 M1703,265.5 V275" fill="none" stroke="#2BB8C0" stroke-width="1.3" stroke-dasharray="2.6 2.6"/>
<rect x="1672.9" y="230.6" width="13.4" height="22.4" rx="2" fill="#fff" stroke="#1E2250" stroke-width="1.3"/>
<path d="M1672.9,234 H1686.3 M1672.9,248.7 H1686.3 M1678.6,250.9 h2" fill="none" stroke="#1E2250" stroke-width="1"/>
<circle cx="1679.2" cy="259.3" r="1.4" fill="#fff" stroke="#1E2250" stroke-width="1.1"/>
<rect x="1669.2" y="260.6" width="20" height="5.6" rx="2.8" fill="#fff" stroke="#1E2250" stroke-width="1.3"/>
<path d="M1682.5,263.4 h4" fill="none" stroke="#1E2250" stroke-width="0.9"/>
<path d="M1671.8,263.4 h1.4" fill="none" stroke="#2BB8C0" stroke-width="1.2"/>
<rect x="1669.2" y="266.1" width="20" height="5.6" rx="2.8" fill="#fff" stroke="#1E2250" stroke-width="1.3"/>
<path d="M1682.5,268.9 h4" fill="none" stroke="#1E2250" stroke-width="0.9"/>
<path d="M1671.8,268.9 h1.4" fill="none" stroke="#2BB8C0" stroke-width="1.2"/>
<rect x="1669.2" y="271.6" width="20" height="5.6" rx="2.8" fill="#fff" stroke="#1E2250" stroke-width="1.3"/>
<path d="M1682.5,274.4 h4" fill="none" stroke="#1E2250" stroke-width="0.9"/>
<path d="M1671.8,274.4 h1.4" fill="none" stroke="#2BB8C0" stroke-width="1.2"/>
<circle cx="1718.11" cy="240.8" r="3.3" fill="#1E2250" stroke="#1E2250" stroke-width="2.2"/>
<circle cx="1722.82" cy="237.49" r="5.19" fill="#1E2250" stroke="#1E2250" stroke-width="2.2"/>
<circle cx="1728.7" cy="240.09" r="4.01" fill="#1E2250" stroke="#1E2250" stroke-width="2.2"/>
<rect x="1718.11" y="239.38" width="10.58" height="4.72" fill="#1E2250" stroke="#1E2250" stroke-width="2.2"/>
<circle cx="1718.11" cy="240.8" r="3.3" fill="#2BB8C0"/>
<circle cx="1722.82" cy="237.49" r="5.19" fill="#2BB8C0"/>
<circle cx="1728.7" cy="240.09" r="4.01" fill="#2BB8C0"/>
<rect x="1718.11" y="239.38" width="10.58" height="4.72" fill="#2BB8C0"/>
<rect x="1713.2" y="252.4" width="21.6" height="15.8" rx="1" fill="#fff" stroke="#1E2250" stroke-width="1.3"/>
<path d="M1713.2,265 H1734.8 M1722,268.3 L1721.2,271.8 H1726.8 L1726,268.3 M1718.3,272.2 H1729.8" fill="none" stroke="#1E2250" stroke-width="1.1"/>
<path d="M1708.24,283.77 L1708.24,287.03 L1705.88,287.34 L1705.59,288.04 L1707.03,289.93 L1704.73,292.23 L1702.84,290.79 L1702.14,291.08 L1701.83,293.44 L1698.57,293.44 L1698.26,291.08 L1697.56,290.79 L1695.67,292.23 L1693.37,289.93 L1694.81,288.04 L1694.52,287.34 L1692.16,287.03 L1692.16,283.77 L1694.52,283.46 L1694.81,282.76 L1693.37,280.87 L1695.67,278.57 L1697.56,280.01 L1698.26,279.72 L1698.57,277.36 L1701.83,277.36 L1702.14,279.72 L1702.84,280.01 L1704.73,278.57 L1707.03,280.87 L1705.59,282.76 L1705.88,283.46Z" fill="#2BB8C0" stroke="#1E2250" stroke-width="1.2" stroke-linejoin="round"/>
<circle cx="1700.2" cy="285.4" r="2.6" fill="#fff" stroke="#1E2250" stroke-width="1.2"/>
<text x="1666.6" y="314.7" font-size="12.6" font-weight="700" fill="#0F1C5C" textLength="73.14" lengthAdjust="spacingAndGlyphs">Application</text>
<rect x="965.1" y="445" width="231.4" height="117.6" rx="19.6" fill="#01B9C0" filter="url(#cs)"/>
<text x="1058.22" y="466" font-size="17.8" font-weight="700" fill="#fff" textLength="45.35" lengthAdjust="spacingAndGlyphs" stroke="#fff" stroke-width="0.3">Data</text>
<path d="M1022.95,482 L1011.2,482 L998.55,501 L1010.25,501Z" fill="#EFEFEF"/>
<path d="M989.15,482 L1000.9,482 L1013.55,501 L1001.85,501Z" fill="#fff"/>
<ellipse cx="1006.05" cy="508.5" rx="13.8" ry="13.8" fill="#DDDFDF"/>
<ellipse cx="1006.05" cy="508.5" rx="8.49" ry="8.49" fill="#E4E6E6" stroke="#C6C8C8" stroke-width="2.3"/>
<path d="M1097.8,481.8 L1086.05,481.8 L1073.4,500.8 L1085.1,500.8Z" fill="#EFEFEF"/>
<path d="M1064,481.8 L1075.75,481.8 L1088.4,500.8 L1076.7,500.8Z" fill="#fff"/>
<ellipse cx="1081.5" cy="508.9" rx="14.4" ry="14" fill="#EFC75E"/>
<ellipse cx="1081.5" cy="508.9" rx="8.86" ry="8.61" fill="#EFC75E" stroke="#DAB24E" stroke-width="2.3"/>
<circle cx="1144.7" cy="497" r="4.1" fill="#fff"/>
<circle cx="1157.25" cy="497" r="4.1" fill="#fff"/>
<circle cx="1169.8" cy="497" r="4.1" fill="#fff"/>
<circle cx="1144.7" cy="508.7" r="4.1" fill="#fff"/>
<circle cx="1157.25" cy="508.7" r="4.1" fill="#fff"/>
<text x="987.75" y="536.7" font-size="12.7" font-weight="400" fill="#fff" textLength="32.51" lengthAdjust="spacingAndGlyphs" stroke="#fff" stroke-width="0.25">Silver</text>
<text x="986.57" y="553.9" font-size="12.7" font-weight="400" fill="#fff" textLength="34.14" lengthAdjust="spacingAndGlyphs" stroke="#fff" stroke-width="0.25">Layer</text>
<text x="1066.1" y="536.7" font-size="12.7" font-weight="400" fill="#fff" textLength="28.46" lengthAdjust="spacingAndGlyphs" stroke="#fff" stroke-width="0.25">Gold</text>
<text x="1062.57" y="553.9" font-size="12.7" font-weight="400" fill="#fff" textLength="34.14" lengthAdjust="spacingAndGlyphs" stroke="#fff" stroke-width="0.25">Layer</text>
<text x="1127.65" y="536.7" font-size="12.7" font-weight="400" fill="#fff" textLength="57.19" lengthAdjust="spacingAndGlyphs" stroke="#fff" stroke-width="0.25">Semantic</text>
<text x="1136.7" y="553.9" font-size="12.7" font-weight="400" fill="#fff" textLength="39.58" lengthAdjust="spacingAndGlyphs" stroke="#fff" stroke-width="0.25">Model</text>
<rect x="1257.2" y="446.8" width="231.9" height="117.9" rx="19.6" fill="#01B9C0" filter="url(#cs)"/>
<text x="1326.49" y="467.4" font-size="18" font-weight="700" fill="#fff" textLength="94.21" lengthAdjust="spacingAndGlyphs" stroke="#fff" stroke-width="0.3">Reporting</text>
<path d="M1204.9,503.9 L1245.6,503.9" fill="none" stroke="#E6007E" stroke-width="2.1"/>
<path d="M1251.9,503.9 L1245.1,507.5 L1245.1,500.3Z" fill="#E6007E"/>
<path d="M1331.6,487.85 L1340.3,492.88 L1340.3,502.92 L1331.6,507.95 L1322.9,502.92 L1322.9,492.88Z" fill="#fff"/>
<path d="M1341.7,506.2 L1350.45,511.25 L1350.45,521.35 L1341.7,526.4 L1332.95,521.35 L1332.95,511.25Z" fill="#fff"/>
<path d="M1321.4,506.7 L1329.71,511.5 L1329.71,521.1 L1321.4,525.9 L1313.09,521.1 L1313.09,511.5Z" fill="none" stroke="#fff" stroke-width="0.9"/>
<path d="M1397,484.9 h4.1 v39 h39.2 v4 h-43.3Z" fill="#fff"/>
<rect x="1404.7" y="498.1" width="7" height="22.3" fill="#fff"/>
<rect x="1414.3" y="484.9" width="7" height="35.5" fill="#fff"/>
<rect x="1424" y="498.1" width="7" height="22.3" fill="#fff"/>
<rect x="1433.6" y="508.9" width="7" height="11.5" fill="#fff"/>
<text x="1311.3" y="546" font-size="12.7" font-weight="400" fill="#fff" textLength="35" lengthAdjust="spacingAndGlyphs" stroke="#fff" stroke-width="0.25">Agent</text>
<text x="1394.92" y="546" font-size="12.7" font-weight="400" fill="#fff" textLength="48.05" lengthAdjust="spacingAndGlyphs" stroke="#fff" stroke-width="0.25">Reports</text>
<rect x="1508.6" y="449.5" width="86.4" height="114.9" rx="13.9" fill="none" stroke="#01B6BD" stroke-width="3.2" stroke-dasharray="12.3 9" stroke-dashoffset="1"/>
<g transform="translate(7.2,373.1)" fill="#01B6BD">
<rect x="1526" y="103" width="14.7" height="14.7" rx="4.2"/>
<rect x="1550.8" y="128" width="14.6" height="14.4" rx="4.2"/>
<rect x="1526.9" y="128.9" width="13" height="13" rx="2.6" transform="rotate(45 1533.4 135.4)"/>
<rect x="1532" y="115" width="2.8" height="14"/>
<rect x="1539" y="134" width="14" height="2.8"/>
<path d="M1551.9,99.7 Q1553.92,106.88 1561.1,108.9 Q1553.92,110.92 1551.9,118.1 Q1549.88,110.92 1542.7,108.9 Q1549.88,106.88 1551.9,99.7Z"/>
<path d="M1561.5,114.9 Q1562.67,119.03 1566.8,120.2 Q1562.67,121.37 1561.5,125.5 Q1560.33,121.37 1556.2,120.2 Q1560.33,119.03 1561.5,114.9Z"/>
</g>
<text x="1535.2" y="540.9" font-size="12.8" font-weight="400" fill="#3ABCC4" textLength="31.53" lengthAdjust="spacingAndGlyphs" stroke="#3ABCC4" stroke-width="0.2">Apps</text>
<path d="M1596.6,503.9 L1636.4,503.9" fill="none" stroke="#E6007E" stroke-width="2.1"/>
<path d="M1642.7,503.9 L1635.9,507.5 L1635.9,500.3Z" fill="#E6007E"/>
<g filter="url(#us)">
<ellipse cx="1696.2" cy="479.9" rx="16.7" ry="14.5" fill="url(#ug1)"/>
<path d="M1669.6,505.5 Q1669.6,499.5 1675.6,499.5 L1716.8,499.5 Q1722.8,499.5 1722.8,505.5 C1722.8,516 1710.2,522.7 1696.2,522.7 C1682.2,522.7 1669.6,516 1669.6,505.5Z" fill="url(#ug2)"/>
</g>
<text x="1656.2" y="543.7" font-size="12.6" font-weight="700" fill="#0F1C5C" textLength="86.1" lengthAdjust="spacingAndGlyphs">Business User</text>
<rect x="965.1" y="692.2" width="231.4" height="117.6" rx="19.6" fill="#01B9C0" filter="url(#cs)"/>
<text x="1058.22" y="713.2" font-size="17.8" font-weight="700" fill="#fff" textLength="45.35" lengthAdjust="spacingAndGlyphs" stroke="#fff" stroke-width="0.3">Data</text>
<path d="M1022.95,729.2 L1011.2,729.2 L998.55,748.2 L1010.25,748.2Z" fill="#EFEFEF"/>
<path d="M989.15,729.2 L1000.9,729.2 L1013.55,748.2 L1001.85,748.2Z" fill="#fff"/>
<ellipse cx="1006.05" cy="755.7" rx="13.8" ry="13.8" fill="#DDDFDF"/>
<ellipse cx="1006.05" cy="755.7" rx="8.49" ry="8.49" fill="#E4E6E6" stroke="#C6C8C8" stroke-width="2.3"/>
<path d="M1097.8,730.1 L1086.05,730.1 L1073.4,749.1 L1085.1,749.1Z" fill="#EFEFEF"/>
<path d="M1064,730.1 L1075.75,730.1 L1088.4,749.1 L1076.7,749.1Z" fill="#fff"/>
<ellipse cx="1081.5" cy="756.4" rx="14.4" ry="13.5" fill="#EFC75E"/>
<ellipse cx="1081.5" cy="756.4" rx="8.86" ry="8.3" fill="#EFC75E" stroke="#DAB24E" stroke-width="2.3"/>
<circle cx="1144.7" cy="744.2" r="4.1" fill="#fff"/>
<circle cx="1157.25" cy="744.2" r="4.1" fill="#fff"/>
<circle cx="1169.8" cy="744.2" r="4.1" fill="#fff"/>
<circle cx="1144.7" cy="755.9" r="4.1" fill="#fff"/>
<circle cx="1157.25" cy="755.9" r="4.1" fill="#fff"/>
<text x="987.75" y="783.9" font-size="12.7" font-weight="400" fill="#fff" textLength="32.51" lengthAdjust="spacingAndGlyphs" stroke="#fff" stroke-width="0.25">Silver</text>
<text x="986.57" y="801.1" font-size="12.7" font-weight="400" fill="#fff" textLength="34.14" lengthAdjust="spacingAndGlyphs" stroke="#fff" stroke-width="0.25">Layer</text>
<text x="1066.1" y="783.9" font-size="12.7" font-weight="400" fill="#fff" textLength="28.46" lengthAdjust="spacingAndGlyphs" stroke="#fff" stroke-width="0.25">Gold</text>
<text x="1062.57" y="801.1" font-size="12.7" font-weight="400" fill="#fff" textLength="34.14" lengthAdjust="spacingAndGlyphs" stroke="#fff" stroke-width="0.25">Layer</text>
<text x="1127.65" y="783.9" font-size="12.7" font-weight="400" fill="#fff" textLength="57.19" lengthAdjust="spacingAndGlyphs" stroke="#fff" stroke-width="0.25">Semantic</text>
<text x="1136.7" y="801.1" font-size="12.7" font-weight="400" fill="#fff" textLength="39.58" lengthAdjust="spacingAndGlyphs" stroke="#fff" stroke-width="0.25">Model</text>
<rect x="1257.2" y="694" width="231.9" height="117.9" rx="19.6" fill="#01B9C0" filter="url(#cs)"/>
<text x="1326.49" y="714.6" font-size="18" font-weight="700" fill="#fff" textLength="94.21" lengthAdjust="spacingAndGlyphs" stroke="#fff" stroke-width="0.3">Reporting</text>
<path d="M1204.9,732.8 L1245.6,732.8" fill="none" stroke="#E6007E" stroke-width="2.1"/>
<path d="M1251.9,732.8 L1245.1,736.4 L1245.1,729.2Z" fill="#E6007E"/>
<path d="M1252.3,772.7 L1212.1,772.7" fill="none" stroke="#E6007E" stroke-width="2.1"/>
<path d="M1205.8,772.7 L1212.6,769.1 L1212.6,776.3Z" fill="#E6007E"/>
<path d="M1319.6,769.2 H1345.6 Q1350.8,769.2 1350.8,764.1 V730.6 Q1350.8,726.6 1348,725.6" fill="none" stroke="#fff" stroke-width="1.4"/>
<rect x="1315.3" y="723.3" width="31.4" height="42" rx="5" fill="none" stroke="#fff" stroke-width="1.5"/>
<text x="1331.2" y="752.6" font-size="25" class="fx" fill="#fff" text-anchor="middle" textLength="18.5" lengthAdjust="spacingAndGlyphs">fx</text>
<path d="M1397,724 h4.1 v39 h39.2 v4 h-43.3Z" fill="#fff"/>
<rect x="1404.7" y="737.2" width="7" height="22.3" fill="#fff"/>
<rect x="1414.3" y="724" width="7" height="35.5" fill="#fff"/>
<rect x="1424" y="737.2" width="7" height="22.3" fill="#fff"/>
<rect x="1433.6" y="748" width="7" height="11.5" fill="#fff"/>
<text x="1296.1" y="784" font-size="12.7" font-weight="400" fill="#fff" textLength="71.11" lengthAdjust="spacingAndGlyphs" stroke="#fff" stroke-width="0.25">Translytical</text>
<text x="1298.2" y="800.7" font-size="12.7" font-weight="400" fill="#fff" textLength="67.26" lengthAdjust="spacingAndGlyphs" stroke="#fff" stroke-width="0.25" word-spacing="1.5">Task Flows</text>
<text x="1394.51" y="784.9" font-size="12.7" font-weight="400" fill="#fff" textLength="48.47" lengthAdjust="spacingAndGlyphs" stroke="#fff" stroke-width="0.25">Reports</text>
<rect x="1508.6" y="696.5" width="86.4" height="114.9" rx="13.9" fill="none" stroke="#01B6BD" stroke-width="3.2" stroke-dasharray="12.3 9" stroke-dashoffset="1"/>
<g transform="translate(7.2,620.1)" fill="#01B6BD">
<rect x="1526" y="103" width="14.7" height="14.7" rx="4.2"/>
<rect x="1550.8" y="128" width="14.6" height="14.4" rx="4.2"/>
<rect x="1526.9" y="128.9" width="13" height="13" rx="2.6" transform="rotate(45 1533.4 135.4)"/>
<rect x="1532" y="115" width="2.8" height="14"/>
<rect x="1539" y="134" width="14" height="2.8"/>
<path d="M1551.9,99.7 Q1553.92,106.88 1561.1,108.9 Q1553.92,110.92 1551.9,118.1 Q1549.88,110.92 1542.7,108.9 Q1549.88,106.88 1551.9,99.7Z"/>
<path d="M1561.5,114.9 Q1562.67,119.03 1566.8,120.2 Q1562.67,121.37 1561.5,125.5 Q1560.33,121.37 1556.2,120.2 Q1560.33,119.03 1561.5,114.9Z"/>
</g>
<text x="1535.2" y="788" font-size="12.8" font-weight="400" fill="#3ABCC4" textLength="31.53" lengthAdjust="spacingAndGlyphs" stroke="#3ABCC4" stroke-width="0.2">Apps</text>
<path d="M1596.6,751.9 L1636.4,751.9" fill="none" stroke="#E6007E" stroke-width="2.1"/>
<path d="M1642.7,751.9 L1635.9,755.5 L1635.9,748.3Z" fill="#E6007E"/>
<g filter="url(#us)">
<ellipse cx="1696.2" cy="726.8" rx="16.7" ry="14.5" fill="url(#ug1)"/>
<path d="M1669.6,752.4 Q1669.6,746.4 1675.6,746.4 L1716.8,746.4 Q1722.8,746.4 1722.8,752.4 C1722.8,762.9 1710.2,769.6 1696.2,769.6 C1682.2,769.6 1669.6,762.9 1669.6,752.4Z" fill="url(#ug2)"/>
</g>
<text x="1656.2" y="790.7" font-size="12.6" font-weight="700" fill="#0F1C5C" textLength="86.1" lengthAdjust="spacingAndGlyphs">Business User</text>
</g>
</svg>
</body></html>
